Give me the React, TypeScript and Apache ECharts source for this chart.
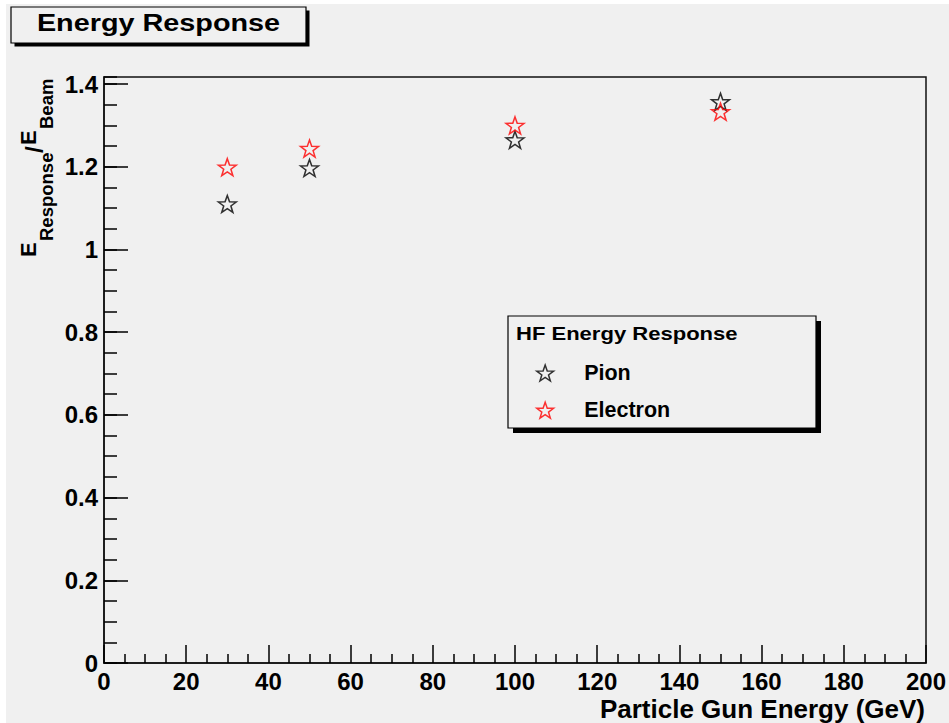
import React, { useEffect, useRef } from "react";
import * as echarts from "echarts";

// ---- data ----
const energies = [30, 50, 100, 150];
const pionResponse = [1.11, 1.197, 1.265, 1.357];
const electronResponse = [1.199, 1.244, 1.3, 1.333];
const seriesNames = ["Pion", "Electron"];
const xRange = [0, 200];
const xStep = 20;
const yRange = [0, 1.417];
const yStep = 0.2;
const yMinorStep = 0.05;
const chartTitle = "Energy Response";
const legendTitle = "HF Energy Response";
const xTitle = "Particle Gun Energy (GeV)";

const FONT = "'Liberation Sans', Arial, Helvetica, sans-serif";
const STAR =
  "path://M100,0L123.5,67.6L195.1,69.1L138,112.4L158.8,180.9L100,140L41.2,180.9L62,112.4L4.9,69.1L76.5,67.6Z";

// rotated piece of the y-axis title: (x = middle line, y = start of text)
function yPart(text: string, x: number, y: number, fontSize: number) {
  return {
    type: "text",
    silent: true,
    z: 5,
    x,
    y,
    rotation: Math.PI / 2,
    style: {
      text,
      fontSize,
      fontWeight: "bold",
      fontFamily: FONT,
      fill: "#000",
      align: "left",
      verticalAlign: "middle",
    },
  };
}

export default function App() {
  const ref = useRef<HTMLDivElement | null>(null);

  useEffect(() => {
    if (!ref.current) return;
    const chart = echarts.init(ref.current, null, { renderer: "svg" });

    const pionData = energies.map((e, i) => [e, pionResponse[i]]);
    const electronData = energies.map((e, i) => [e, electronResponse[i]]);

    const tickStyle = { color: "#000", width: 1.5 };

    const option: any = {
      animation: false,
      backgroundColor: "#ffffff",
      grid: {
        left: 104,
        right: 23,
        top: 77,
        bottom: 60,
        show: true,
        borderColor: "#111",
        borderWidth: 1.5,
        backgroundColor: "transparent",
        containLabel: false,
        outerBoundsMode: "none",
      },
      xAxis: {
        type: "value",
        min: xRange[0],
        max: xRange[1],
        interval: xStep,
        axisLine: { show: true, onZero: false, lineStyle: { color: "#111", width: 1.5 } },
        axisTick: { show: true, inside: true, length: 18, lineStyle: tickStyle },
        minorTick: { show: true, splitNumber: 4, length: 9, lineStyle: tickStyle },
        splitLine: { show: false },
        minorSplitLine: { show: false },
        axisLabel: {
          fontSize: 24,
          fontWeight: "bold",
          color: "#000",
          fontFamily: FONT,
          margin: 6,
        },
      },
      yAxis: [
        {
          type: "value",
          position: "left",
          min: yRange[0],
          max: yRange[1],
          interval: yStep,
          axisLine: { show: true, onZero: false, lineStyle: { color: "#111", width: 1.5 } },
          axisTick: { show: true, inside: true, length: 24, lineStyle: tickStyle },
          splitLine: { show: false },
          axisLabel: {
            fontSize: 24,
            fontWeight: "bold",
            color: "#000",
            fontFamily: FONT,
            margin: 6,
            showMaxLabel: false,
            formatter: (v: number) => {
              const k = Math.round(v / yStep);
              if (Math.abs(v - k * yStep) > 1e-6) return "";
              return String(+(k * yStep).toFixed(1));
            },
          },
        },
        {
          type: "value",
          position: "left",
          min: yRange[0],
          max: yRange[1],
          interval: yMinorStep,
          axisLine: { show: false },
          axisTick: { show: true, inside: true, length: 13, lineStyle: tickStyle },
          axisLabel: { show: false },
          splitLine: { show: false },
        },
      ],
      legend: {
        orient: "vertical",
        left: 536,
        top: 362,
        padding: 0,
        itemWidth: 68,
        itemHeight: 16,
        itemGap: 15.2,
        selectedMode: false,
        z: 6,
        data: seriesNames.map((n) => ({ name: n, icon: STAR })),
        itemStyle: { borderWidth: 1.5 },
        textStyle: {
          fontSize: 21.5,
          fontWeight: "bold",
          color: "#000",
          fontFamily: FONT,
          lineHeight: 16,
        },
      },
      series: [
        {
          name: seriesNames[0],
          type: "scatter",
          xAxisIndex: 0,
          yAxisIndex: 0,
          symbol: STAR,
          symbolSize: [18, 17],
          itemStyle: { color: "rgba(0,0,0,0)", borderColor: "#000000", borderWidth: 1.5 },
          data: pionData,
          z: 3,
        },
        {
          name: seriesNames[1],
          type: "scatter",
          xAxisIndex: 0,
          yAxisIndex: 0,
          symbol: STAR,
          symbolSize: [18, 17],
          itemStyle: { color: "rgba(0,0,0,0)", borderColor: "#ff0000", borderWidth: 1.5 },
          data: electronData,
          z: 4,
        },
      ],
      graphic: [
        {
          type: "rect",
          silent: true,
          z: -10,
          shape: { x: 6, y: 4, width: 943, height: 719 },
          style: { fill: "#f0f0f0" },
        },
        // title box with shadow
        {
          type: "rect",
          silent: true,
          z: 1,
          shape: { x: 14.5, y: 10.5, width: 295, height: 36 },
          style: { fill: "#000" },
        },
        {
          type: "rect",
          silent: true,
          z: 2,
          shape: { x: 11, y: 7, width: 295, height: 36 },
          style: { fill: "#f0f0f0", stroke: "#000", lineWidth: 1.2 },
        },
        {
          type: "text",
          silent: true,
          z: 3,
          x: 158.5,
          y: 23.3,
          scaleX: 1.2,
          style: {
            text: chartTitle,
            fontSize: 24,
            fontWeight: "bold",
            fontFamily: FONT,
            fill: "#000",
            align: "center",
            verticalAlign: "middle",
          },
        },
        // legend box with shadow
        {
          type: "rect",
          silent: true,
          z: 2,
          shape: { x: 513, y: 321, width: 308, height: 112 },
          style: { fill: "#000" },
        },
        {
          type: "rect",
          silent: true,
          z: 3,
          shape: { x: 508, y: 316, width: 308, height: 112 },
          style: { fill: "#f0f0f0", stroke: "#000", lineWidth: 1.2 },
        },
        {
          type: "text",
          silent: true,
          z: 5,
          x: 516,
          y: 332.6,
          scaleX: 1.16,
          style: {
            text: legendTitle,
            fontSize: 19,
            fontWeight: "bold",
            fontFamily: FONT,
            fill: "#000",
            align: "left",
            verticalAlign: "middle",
          },
        },
        // x axis title
        {
          type: "text",
          silent: true,
          z: 5,
          x: 925,
          y: 709,
          style: {
            text: xTitle,
            fontSize: 26,
            fontWeight: "bold",
            fontFamily: FONT,
            fill: "#000",
            align: "right",
            verticalAlign: "middle",
          },
        },
        // y axis title: E_Response / E_Beam
        yPart("E", 28, 257, 22),
        yPart("Response", 46.5, 241, 18.5),
        yPart("/", 34, 153, 24),
        yPart("E", 28, 145, 22),
        yPart("Beam", 46.5, 129, 18.5),
      ],
    };

    chart.setOption(option);
    return () => {
      chart.dispose();
    };
  }, []);

  return (
    <div
      ref={ref}
      style={{ position: "fixed", left: 0, top: 0, width: 949, height: 723 }}
    />
  );
}
